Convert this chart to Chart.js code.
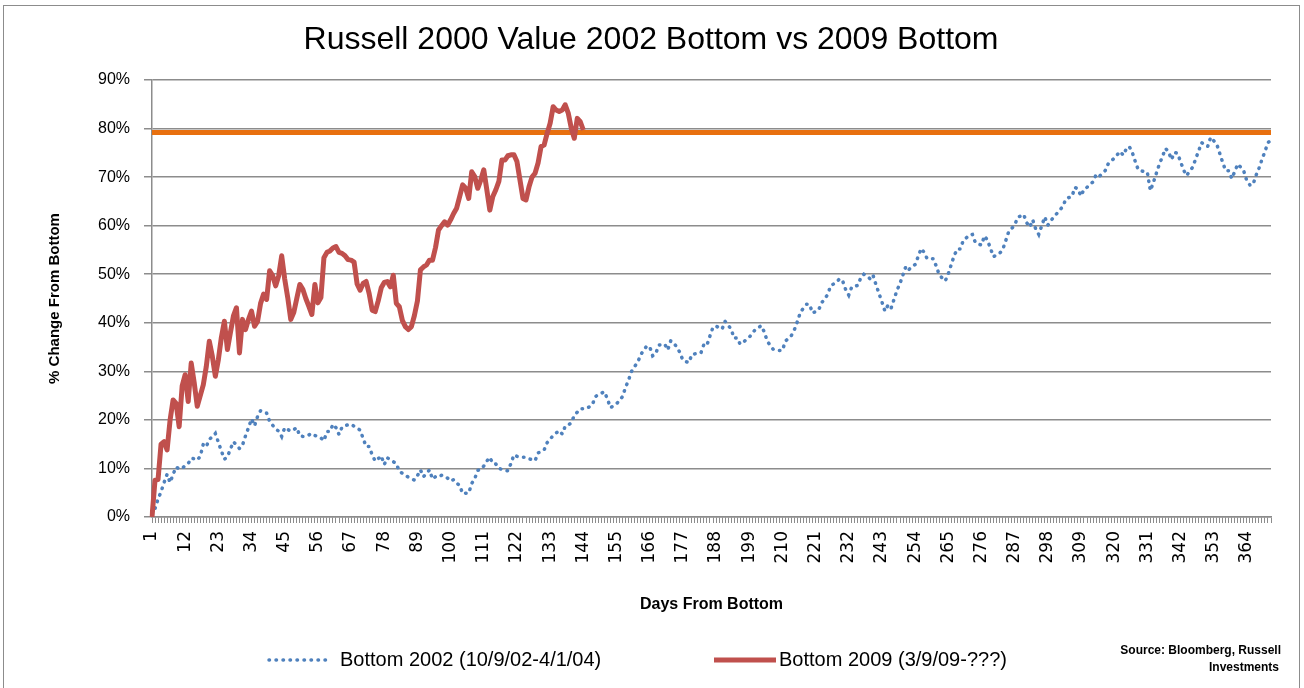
<!DOCTYPE html>
<html>
<head>
<meta charset="utf-8">
<script src="https://cdn.jsdelivr.net/npm/chart.js@4.4.1/dist/chart.umd.min.js"></script>
<style>
  html, body { margin: 0; padding: 0; background: #fff; }
  #wrap { width: 1304px; height: 688px; position: relative; }
</style>
</head>
<body>
<div id="wrap"><canvas id="chart"></canvas></div>
<script>
// Days from bottom (x categories)
const dayCount = 372;
const days = [];
for (let d = 1; d <= dayCount; d++) days.push(String(d));

// Bottom 2002 (10/9/02-4/1/04), % change from bottom
const bottom2002 = [
  0.5, 1.7, 3.7, 5.2, 7.1, 8.8, 7.1, 8.8, 10.3, 9.9,
  10.0, 10.6, 11.0, 12.1, 12.0, 11.7, 12.5, 15.0, 14.5, 16.0,
  16.5, 17.2, 15.4, 13.6, 11.9, 12.4, 14.0, 15.5, 14.8, 14.1,
  14.8, 16.7, 18.4, 20.2, 18.8, 20.7, 21.9, 21.6, 21.4, 19.7,
  18.9, 18.1, 17.7, 16.6, 18.4, 18.0, 17.7, 18.0, 18.4, 16.7,
  16.6, 16.6, 16.9, 17.2, 16.8, 16.5, 16.3, 15.7, 17.6, 17.6,
  19.1, 18.4, 17.0, 18.5, 18.8, 19.0, 19.1, 18.7, 18.3, 17.9,
  16.2, 14.5, 14.5, 12.8, 11.5, 12.0, 12.6, 10.8, 12.2, 11.8,
  11.4, 11.0, 9.4, 9.0, 8.6, 8.2, 7.9, 7.6, 8.5, 9.7,
  8.3, 9.0, 9.7, 7.8, 8.3, 8.2, 8.6, 8.4, 8.0, 7.4,
  7.7, 7.0, 6.5, 4.8, 4.9, 4.9, 6.9, 7.9, 9.6, 9.8,
  10.5, 11.5, 12.3, 11.0, 10.9, 10.0, 9.8, 9.6, 9.5, 11.0,
  12.8, 12.5, 12.3, 12.3, 12.3, 12.0, 11.8, 11.6, 13.2, 13.5,
  13.8, 15.3, 16.0, 16.8, 17.3, 17.8, 17.1, 18.7, 18.9, 19.4,
  20.9, 21.6, 22.3, 22.3, 22.3, 22.7, 23.1, 24.8, 25.2, 25.5,
  25.8, 24.3, 22.5, 22.9, 23.3, 24.0, 24.8, 26.7, 28.2, 30.0,
  31.0, 31.8, 33.4, 34.3, 35.2, 35.1, 33.2, 33.6, 35.4, 35.5,
  35.6, 34.4, 36.3, 35.8, 35.0, 33.9, 32.3, 32.0, 31.8, 33.5,
  33.6, 33.7, 33.8, 35.6, 35.4, 37.3, 39.1, 39.3, 39.0, 38.7,
  40.3, 39.5, 38.7, 36.8, 36.9, 35.6, 36.0, 36.5, 37.0, 37.8,
  38.6, 39.0, 39.4, 38.1, 36.2, 35.3, 34.5, 34.4, 34.3, 34.3,
  36.2, 36.8, 37.4, 38.6, 40.3, 42.2, 43.0, 43.8, 43.8, 42.0,
  42.3, 42.6, 44.1, 44.9, 45.8, 47.6, 48.0, 48.4, 49.1, 48.6,
  46.8, 45.7, 47.4, 47.5, 47.7, 49.3, 50.0, 49.6, 49.1, 49.9,
  47.9, 46.1, 44.3, 42.4, 43.6, 42.9, 44.8, 46.7, 48.1, 49.9,
  51.7, 51.0, 51.5, 52.0, 53.6, 55.3, 54.5, 53.2, 53.2, 53.2,
  51.7, 49.9, 49.2, 48.6, 50.1, 52.0, 53.9, 55.2, 55.2, 57.0,
  57.5, 58.1, 58.2, 56.5, 56.2, 56.0, 57.9, 57.0, 55.3, 53.6,
  54.0, 54.3, 55.0, 56.8, 58.7, 59.4, 60.1, 61.7, 62.0, 62.3,
  60.6, 59.7, 61.2, 59.3, 58.2, 60.0, 61.8, 60.1, 61.0, 61.8,
  62.5, 63.2, 64.0, 65.5, 65.8, 66.0, 67.9, 67.5, 66.1, 67.5,
  67.9, 68.5, 69.0, 70.5, 70.1, 70.7, 71.3, 72.7, 73.3, 73.9,
  74.6, 75.3, 74.5, 75.8, 76.3, 75.1, 73.2, 71.5, 71.3, 71.1,
  71.0, 67.2, 68.9, 70.8, 72.7, 74.2, 75.9, 75.3, 73.6, 75.1,
  74.9, 73.2, 71.5, 70.3, 71.2, 72.0, 73.7, 75.4, 77.1, 76.6,
  76.3, 78.2, 77.5, 76.8, 74.9, 73.0, 71.3, 71.3, 69.7, 71.2,
  72.7, 72.0, 71.2, 69.2, 68.4, 68.4, 70.3, 71.8, 73.6, 75.3,
  77.1, 77.6
];

// Bottom 2009 (3/9/09-???), % change from bottom
const bottom2009 = [
  0.0, 7.6, 7.7, 15.0, 15.5, 13.8, 20.0, 24.1, 23.4, 18.6,
  27.0, 29.3, 23.8, 31.7, 27.6, 22.8, 25.0, 27.2, 31.0, 36.2,
  33.1, 29.0, 32.4, 37.0, 40.3, 34.5, 38.0, 41.4, 43.1, 33.8,
  40.7, 38.6, 40.7, 42.4, 39.3, 40.3, 44.0, 45.9, 44.8, 50.7,
  49.7, 47.6, 49.7, 53.8, 49.0, 45.2, 40.7, 42.1, 45.0, 47.9,
  46.9, 45.0, 43.4, 41.7, 47.9, 44.1, 45.2, 53.4, 54.5, 54.8,
  55.4, 55.7, 54.5, 54.3, 53.8, 53.0, 52.9, 52.5, 48.0, 46.7,
  48.1, 48.5, 46.0, 42.6, 42.3, 44.5, 47.2, 48.3, 48.5, 47.4,
  49.8, 44.0, 43.3, 40.5, 39.2, 38.6, 39.2, 41.5, 44.5, 50.9,
  51.5, 51.9, 52.9, 52.9, 55.5, 59.1, 60.0, 60.8, 60.1, 61.2,
  62.5, 63.6, 66.0, 68.4, 67.7, 65.6, 71.1, 70.1, 67.7, 69.4,
  71.5, 67.4, 63.2, 66.0, 67.4, 69.1, 73.5, 73.5, 74.4, 74.6,
  74.6, 73.2, 69.4, 65.6, 65.3, 68.0, 70.0, 70.8, 72.9, 76.3,
  76.6, 79.0, 81.1, 84.5, 83.8, 83.5, 83.8, 84.9, 83.2, 80.1,
  78.0, 82.1, 81.4, 79.7
];

// orange reference level across the chart
const refLevel = 79.2;

// y axis ticks
const yMin = 0, yMax = 90, yStep = 10;
const xLabelEvery = 11;

const chartTitle = 'Russell 2000 Value 2002 Bottom vs 2009 Bottom';
const blue = '#4F81BD', red = '#C0504D', orange = '#E8700F', gridGray = '#8C8C8C';

const extrasPlugin = {
  id: 'extras',
  afterDraw(chart) {
    const ctx = chart.ctx;
    ctx.save();
    // outer chart border
    ctx.strokeStyle = '#8C8C8C';
    ctx.lineWidth = 1;
    ctx.strokeRect(3.5, 5.5, 1296, 700);

    // title, centred on the whole picture
    ctx.fillStyle = '#000';
    ctx.font = '32px "Liberation Sans", Arial, sans-serif';
    ctx.textAlign = 'center';
    ctx.textBaseline = 'middle';
    ctx.fillText(chartTitle, 651, 40);

    // legend
    const ly = 660;
    ctx.lineCap = 'round';
    ctx.strokeStyle = blue;
    ctx.lineWidth = 3.5;
    ctx.setLineDash([0.5, 6.5]);
    ctx.beginPath(); ctx.moveTo(269, ly); ctx.lineTo(330, ly); ctx.stroke();
    ctx.setLineDash([]);
    ctx.lineCap = 'butt';
    ctx.strokeStyle = red;
    ctx.lineWidth = 5;
    ctx.beginPath(); ctx.moveTo(714, ly); ctx.lineTo(776, ly); ctx.stroke();

    ctx.font = '20px "Liberation Sans", Arial, sans-serif';
    ctx.textAlign = 'left';
    ctx.fillText('Bottom 2002 (10/9/02-4/1/04)', 340, ly);
    ctx.fillText('Bottom 2009 (3/9/09-???)', 779, ly);

    // source note
    ctx.font = 'bold 12px "Liberation Sans Narrow", "Liberation Sans", Arial, sans-serif';
    ctx.textAlign = 'right';
    ctx.fillText('Source: Bloomberg, Russell', 1281, 651);
    ctx.fillText('Investments', 1279, 668);
    ctx.restore();
  }
};

new Chart(document.getElementById('chart'), {
  type: 'line',
  data: {
    labels: days,
    datasets: [
      {
        label: 'Bottom 2009 (3/9/09-???)',
        data: bottom2009,
        borderColor: red,
        borderWidth: 5,
        pointRadius: 0,
        tension: 0,
        borderJoinStyle: 'round'
      },
      {
        label: 'Bottom 2002 (10/9/02-4/1/04)',
        data: bottom2002,
        borderColor: blue,
        borderWidth: 3.5,
        borderDash: [0.5, 6.5],
        borderCapStyle: 'round',
        pointRadius: 0,
        tension: 0
      },
      {
        label: 'level',
        data: days.map(() => refLevel),
        borderColor: orange,
        borderWidth: 5,
        pointRadius: 0,
        tension: 0
      }
    ]
  },
  options: {
    responsive: true,
    maintainAspectRatio: false,
    animation: false,
    devicePixelRatio: 1,
    layout: { padding: { left: 0, right: 33, top: 80, bottom: 61 } },
    plugins: {
      legend: { display: false },
      tooltip: { enabled: false },
      title: { display: false }
    },
    scales: {
      x: {
        offset: false,
        afterFit(scale) { scale.height = 110; },
        grid: { drawOnChartArea: false, drawTicks: true, tickLength: 6, color: gridGray },
        border: { color: gridGray, width: 1.5 },
        ticks: {
          autoSkip: false,
          minRotation: 90,
          maxRotation: 90,
          padding: 8,
          color: '#000',
          font: { family: '"DejaVu Sans", sans-serif', size: 17 },
          callback(val, i) { return i % xLabelEvery === 0 ? days[i] : ''; }
        },
        title: {
          display: true,
          text: 'Days From Bottom',
          color: '#000',
          font: { family: '"Liberation Sans", Arial, sans-serif', size: 16, weight: 'bold' },
          padding: { top: 0, bottom: 13 }
        }
      },
      y: {
        min: yMin,
        max: yMax,
        afterFit(scale) { scale.width = 152; },
        grid: { color: gridGray, lineWidth: 1.5, tickLength: 8 },
        border: { color: gridGray, width: 1.5 },
        ticks: {
          stepSize: yStep,
          padding: 14,
          color: '#000',
          font: { family: '"Liberation Sans", Arial, sans-serif', size: 16 },
          callback(v) { return v + '%'; }
        },
        title: {
          display: true,
          text: '% Change From Bottom',
          color: '#000',
          font: { family: '"Liberation Sans", Arial, sans-serif', size: 15, weight: 'bold' },
          padding: { top: 46, bottom: 0 }
        }
      }
    }
  },
  plugins: [extrasPlugin]
});
</script>
</body>
</html>
